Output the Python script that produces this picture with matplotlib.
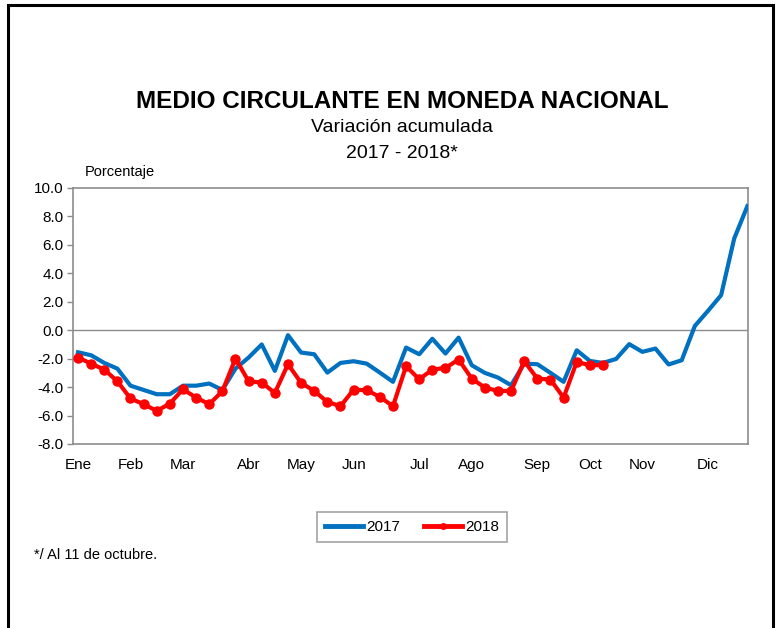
import matplotlib.pyplot as plt
from matplotlib.lines import Line2D
from matplotlib.patches import Rectangle

# weekly cumulative variation (%)
values_2017 = [
    -1.55, -1.76, -2.3, -2.7, -3.9, -4.2, -4.5, -4.5, -3.9, -3.9,
    -3.75, -4.2, -2.7, -1.92, -1.0, -2.86, -0.35, -1.57, -1.69, -2.98,
    -2.3, -2.18, -2.35, -2.98, -3.63, -1.22, -1.69, -0.6, -1.64, -0.52,
    -2.46, -3.0, -3.33, -3.87, -2.35, -2.39, -3.0, -3.63, -1.41, -2.16,
    -2.3, -2.02, -0.98, -1.52, -1.29, -2.41, -2.11, 0.3, 1.36, 2.46,
    6.45, 8.72,
]
values_2018 = [
    -1.92, -2.35, -2.77, -3.59, -4.8, -5.2, -5.67, -5.16, -4.15, -4.74,
    -5.2, -4.29, -1.99, -3.59, -3.68, -4.41, -2.39, -3.7, -4.27, -5.04,
    -5.34, -4.18, -4.22, -4.69, -5.34, -2.53, -3.45, -2.77, -2.65, -2.06,
    -3.4, -4.03, -4.27, -4.27, -2.18, -3.4, -3.47, -4.74, -2.23, -2.46,
    -2.46,
]
month_labels = ["Ene", "Feb", "Mar", "Abr", "May", "Jun",
                "Jul", "Ago", "Sep", "Oct", "Nov", "Dic"]
month_weeks = [0, 4, 8, 13, 17, 21, 26, 30, 35, 39, 43, 48]
y_ticks = [10.0, 8.0, 6.0, 4.0, 2.0, 0.0, -2.0, -4.0, -6.0, -8.0]

BLUE = "#0070C0"
RED = "#FF0000"
GRID = "#8c8c8c"

plt.rcParams["font.family"] = ["Liberation Sans", "DejaVu Sans"]

W, H = 777, 628
fig = plt.figure(figsize=(W / 100, H / 100), dpi=100)
fig.patch.set_facecolor("white")


def fx(px):
    return px / W


def fy(py):
    return 1 - py / H


ax = fig.add_axes([fx(73), fy(444), fx(748) - fx(73), fy(188) - fy(444)])
ax.plot(range(len(values_2017)), values_2017, color=BLUE, linewidth=3,
        solid_joinstyle="round", zorder=3)
ax.plot(range(len(values_2018)), values_2018, color=RED, linewidth=3,
        marker="o", markersize=6.5, solid_joinstyle="round", zorder=4)
ax.axhline(0, color=GRID, linewidth=1, zorder=2)

ax.set_xlim(-0.38, 51.05)
ax.set_ylim(-8, 10)
ax.set_yticks(y_ticks, [f"{v:.1f}" for v in y_ticks])
ax.set_xticks(month_weeks, month_labels)
ax.tick_params(axis="x", length=0, pad=10, labelsize=11)
ax.tick_params(axis="y", length=4, width=1, color=GRID, pad=3, labelsize=11)
for spine in ax.spines.values():
    spine.set_color(GRID)
    spine.set_linewidth(1.2)

fig.text(fx(402), fy(102), "MEDIO CIRCULANTE EN MONEDA NACIONAL",
         ha="center", va="center", fontsize=17.5, fontweight="bold")
fig.text(fx(402), fy(128), "Variación acumulada",
         ha="center", va="center", fontsize=14)
fig.text(fx(402), fy(153), "2017 - 2018*",
         ha="center", va="center", fontsize=14)
fig.text(fx(85), fy(172), "Porcentaje", ha="left", va="center", fontsize=10.5)
fig.text(fx(34), fy(555), "*/ Al 11 de octubre.", ha="left", va="center",
         fontsize=10.5)

handles = [
    Line2D([], [], color=BLUE, linewidth=3.5),
    Line2D([], [], color=RED, linewidth=3.5, marker="o", markersize=4),
]
leg = fig.legend(handles, ["2017", "2018"], loc="center",
                 bbox_to_anchor=(fx(412), fy(527)), ncol=2, fontsize=11,
                 frameon=True, fancybox=False, handlelength=2.5,
                 handletextpad=0.2, columnspacing=1.6, borderpad=0.5,
                 borderaxespad=0)
leg.get_frame().set_edgecolor(GRID)
leg.get_frame().set_linewidth(1.2)

# outer black frame (bottom edge falls outside the picture)
fig.patches.append(Rectangle((fx(8), fy(660)), fx(773) - fx(8), fy(5) - fy(660),
                             transform=fig.transFigure, fill=False,
                             edgecolor="black", linewidth=2.2))

fig.savefig("out.png", dpi=100)
